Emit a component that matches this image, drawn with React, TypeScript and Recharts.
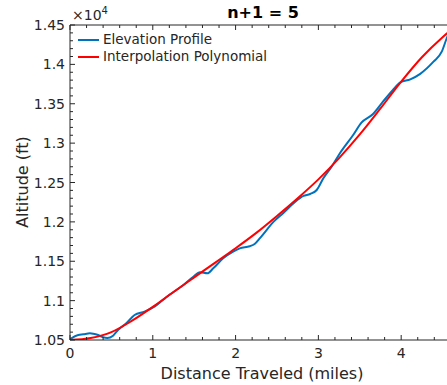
import React from 'react';
import { LineChart, Line, XAxis, YAxis, Legend } from 'recharts';

// elevation profile
const elevDist = [0, 0.1, 0.16, 0.24, 0.28, 0.34, 0.4, 0.45, 0.52, 0.58, 0.68, 0.78, 0.9, 1.02, 1.17, 1.37, 1.49, 1.57, 1.66, 1.73, 1.85, 1.97, 2.05, 2.17, 2.23, 2.3, 2.46, 2.58, 2.7, 2.82, 2.9, 2.98, 3.06, 3.16, 3.26, 3.42, 3.52, 3.66, 3.78, 3.9, 3.99, 4.11, 4.23, 4.39, 4.49, 4.55, 4.6];
const elevAlt = [10510, 10563, 10572, 10585, 10580, 10563, 10534, 10525, 10555, 10627, 10712, 10817, 10860, 10923, 11050, 11198, 11304, 11360, 11347, 11410, 11537, 11621, 11664, 11690, 11719, 11800, 12003, 12117, 12236, 12330, 12354, 12405, 12553, 12700, 12871, 13103, 13260, 13370, 13526, 13675, 13772, 13810, 13880, 14034, 14161, 14331, 14450];

// interpolation polynomial (n+1 = 5)
const polyDist = [0, 0.25, 0.5, 0.75, 1, 1.25, 1.5, 1.75, 2, 2.25, 2.5, 2.75, 3, 3.25, 3.5, 3.75, 4, 4.25, 4.5, 4.6];
const polyAlt = [10500, 10525, 10600, 10745, 10920, 11110, 11295, 11480, 11665, 11860, 12075, 12300, 12540, 12810, 13110, 13440, 13780, 14090, 14345, 14435];

const xTicks = Array.from({ length: 24 }, (_, i) => i / 5);
const yTicks = Array.from({ length: 41 }, (_, i) => 10500 + i * 100);

const elevData = elevDist.map((d, i) => ({ dist: d, alt: elevAlt[i] }));
const polyData = polyDist.map((d, i) => ({ dist: d, alt: polyAlt[i] }));

const axisColor = '#262626';
const font = '"DejaVu Sans", sans-serif';

const isMajorX = (v: number) => Math.abs(v - Math.round(v)) < 1e-6;
const isMajorY = (v: number) => v % 500 === 0;

const BottomTick = ({ x, y, payload }: any) => {
  const major = isMajorX(payload.value);
  return (
    <g>
      <line x1={x} y1={y} x2={x} y2={y - (major ? 5 : 3)} stroke={axisColor} />
      {major && (
        <text x={x} y={y + 18} textAnchor="middle" fill={axisColor} fontSize={14} fontFamily={font}>
          {Math.round(payload.value)}
        </text>
      )}
    </g>
  );
};

const TopTick = ({ x, y, payload }: any) => {
  const major = isMajorX(payload.value);
  return <line x1={x} y1={y} x2={x} y2={y + (major ? 5 : 3)} stroke={axisColor} />;
};

const LeftTick = ({ x, y, payload }: any) => {
  const major = isMajorY(payload.value);
  return (
    <g>
      <line x1={x} y1={y} x2={x + (major ? 5 : 3)} y2={y} stroke={axisColor} />
      {major && (
        <text x={x - 5} y={y + 5} textAnchor="end" fill={axisColor} fontSize={14} fontFamily={font}>
          {parseFloat((payload.value / 10000).toFixed(2)).toString()}
        </text>
      )}
    </g>
  );
};

const RightTick = ({ x, y, payload }: any) => {
  const major = isMajorY(payload.value);
  return <line x1={x} y1={y} x2={x - (major ? 5 : 3)} y2={y} stroke={axisColor} />;
};

const renderLegend = () => (
  <div style={{ fontFamily: font, fontSize: 13.5, color: axisColor, lineHeight: '17px' }}>
    {[
      { name: 'Elevation Profile', color: '#0072BD' },
      { name: 'Interpolation Polynomial', color: '#FF0000' },
    ].map((it) => (
      <div key={it.name} style={{ display: 'flex', alignItems: 'center' }}>
        <span style={{ display: 'inline-block', width: 21, height: 2, background: it.color, marginRight: 4 }} />
        <span>{it.name}</span>
      </div>
    ))}
  </div>
);

export default function App() {
  return (
    <div style={{ position: 'absolute', left: 0, top: 0, width: 447, height: 385, overflow: 'hidden', background: '#fff' }}>
      <LineChart width={470} height={385} margin={{ top: 24, right: 14, bottom: 44, left: 69 }}>
        <XAxis dataKey="dist" type="number" domain={[0, 4.65]} allowDataOverflow ticks={xTicks} interval={0}
          height={1} tickSize={0} tickMargin={0} tickLine={false} tick={<BottomTick />} stroke={axisColor} />
        <XAxis xAxisId="top" orientation="top" dataKey="dist" type="number" domain={[0, 4.65]} allowDataOverflow
          ticks={xTicks} interval={0} height={1} tickSize={0} tickMargin={0} tickLine={false} tick={<TopTick />} stroke={axisColor} />
        <YAxis type="number" domain={[10500, 14500]} allowDataOverflow ticks={yTicks} interval={0}
          width={1} tickSize={0} tickMargin={0} tickLine={false} tick={<LeftTick />} stroke={axisColor} />
        <YAxis yAxisId="right" orientation="right" type="number" domain={[10500, 14500]} allowDataOverflow ticks={yTicks}
          interval={0} width={1} tickSize={0} tickMargin={0} tickLine={false} tick={<RightTick />} stroke={axisColor} />
        <Legend layout="vertical" align="center" verticalAlign="middle" content={renderLegend}
          wrapperStyle={{ left: 78, top: 31, width: 'auto', height: 'auto' }} />
        <Line data={elevData} dataKey="alt" name="Elevation Profile" type="monotone" stroke="#0072BD" strokeWidth={2}
          dot={false} isAnimationActive={false} />
        <Line data={polyData} dataKey="alt" name="Interpolation Polynomial" type="monotone" stroke="#FF0000" strokeWidth={2}
          dot={false} isAnimationActive={false} />
      </LineChart>
      <div style={{ position: 'absolute', left: 263, top: 12, transform: 'translate(-50%, -50%)', fontFamily: font, fontSize: 16, fontWeight: 'bold', color: '#000', whiteSpace: 'nowrap' }}>
        n+1 = 5
      </div>
      <div style={{ position: 'absolute', left: 72, top: 8, fontFamily: font, fontSize: 14, color: axisColor, whiteSpace: 'nowrap', lineHeight: '14px' }}>
        ×10<sup style={{ fontSize: 10, verticalAlign: 'top', position: 'relative', top: -4 }}>4</sup>
      </div>
      <div style={{ position: 'absolute', left: 262, top: 373, transform: 'translate(-50%, -50%)', fontFamily: font, fontSize: 16, color: axisColor, whiteSpace: 'nowrap' }}>
        Distance Traveled (miles)
      </div>
      <div style={{ position: 'absolute', left: 22, top: 182, transform: 'translate(-50%, -50%) rotate(-90deg)', fontFamily: font, fontSize: 16, color: axisColor, whiteSpace: 'nowrap' }}>
        Altitude (ft)
      </div>
    </div>
  );
}
